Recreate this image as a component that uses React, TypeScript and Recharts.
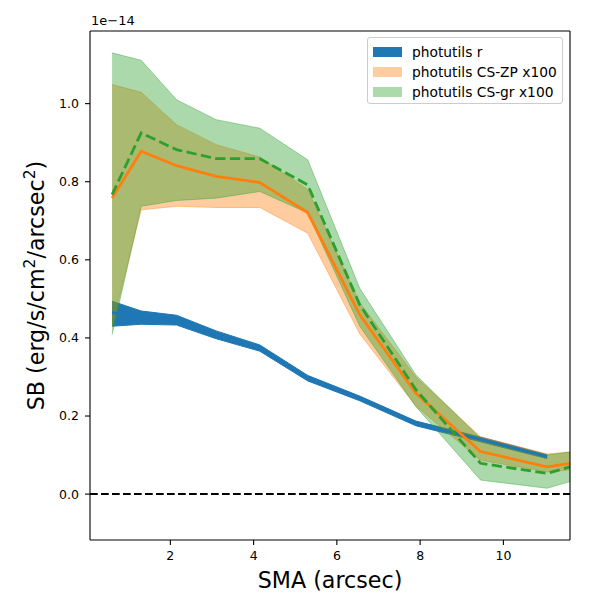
import {
  Area,
  ComposedChart,
  Line,
  ReferenceLine,
  XAxis,
  YAxis,
} from "recharts";

// SMA (arcsec), last point sits on the right edge of the axes
const sma = [0.6, 1.3, 2.15, 3.1, 4.15, 5.3, 6.55, 7.9, 9.45, 11.05, 11.6];

// SB in units of 1e-14 erg/s/cm2/arcsec2
const rMid = [0.465, 0.452, 0.446, 0.408, 0.374, 0.297, 0.245, 0.181, 0.14, 0.096];
const rLow = [0.43, 0.435, 0.433, 0.398, 0.366, 0.29, 0.239, 0.175, 0.134, 0.091];
const rHigh = [0.494, 0.469, 0.458, 0.418, 0.382, 0.304, 0.251, 0.187, 0.146, 0.101];

const zpMid = [0.758, 0.878, 0.841, 0.814, 0.798, 0.721, 0.459, 0.258, 0.109, 0.07, 0.079];
const zpLow = [0.43, 0.728, 0.737, 0.734, 0.734, 0.668, 0.41, 0.225, 0.087, 0.057, 0.062];
const zpHigh = [1.049, 1.029, 0.946, 0.895, 0.863, 0.78, 0.49, 0.3, 0.147, 0.103, 0.108];

const grMid = [0.767, 0.925, 0.882, 0.859, 0.859, 0.792, 0.485, 0.267, 0.079, 0.053, 0.07];
const grLow = [0.408, 0.737, 0.752, 0.758, 0.775, 0.72, 0.43, 0.224, 0.036, 0.015, 0.032];
const grHigh = [1.13, 1.111, 1.01, 0.959, 0.937, 0.856, 0.527, 0.305, 0.143, 0.1, 0.108];

const xTicks = [2, 4, 6, 8, 10];
const yTicks = [0, 0.2, 0.4, 0.6, 0.8, 1.0];
const xDomain = [0.07, 11.6];
const yDomain = [-0.1175, 1.186];

const legendItems = [
  { label: "photutils r", color: "#1f77b4" },
  { label: "photutils CS-ZP x100", color: "#ffcc9f" },
  { label: "photutils CS-gr x100", color: "#abdaab" },
];

const data = sma.map((x, i) => ({
  sma: x,
  r: rMid[i],
  rBand: rMid[i] === undefined ? undefined : [rLow[i], rHigh[i]],
  zp: zpMid[i],
  zpBand: [zpLow[i], zpHigh[i]],
  gr: grMid[i],
  grBand: [grLow[i], grHigh[i]],
}));

const FONT = "'DejaVu Sans', sans-serif";
const tickStyle = { fill: "#000", fontSize: 12.5, fontFamily: FONT };

export default function App() {
  return (
    <div style={{ position: "relative", width: 600, height: 600, fontFamily: FONT }}>
      <style>{"body{margin:0}"}</style>
      <ComposedChart
        width={600}
        height={600}
        data={data}
        margin={{ top: 31, right: 30, bottom: 0, left: 0 }}
      >
        <XAxis
          dataKey="sma"
          type="number"
          domain={xDomain}
          ticks={xTicks}
          allowDataOverflow
          height={60}
          tick={tickStyle}
          tickSize={5}
          tickMargin={6}
          axisLine={{ stroke: "#000", strokeWidth: 1.1 }}
          tickLine={{ stroke: "#000", strokeWidth: 1.1 }}
        />
        <YAxis
          type="number"
          domain={yDomain}
          ticks={yTicks}
          allowDataOverflow
          width={90}
          tick={tickStyle}
          tickSize={5}
          tickMargin={6}
          tickFormatter={(v: number) => v.toFixed(1)}
          axisLine={{ stroke: "#000", strokeWidth: 1.1 }}
          tickLine={{ stroke: "#000", strokeWidth: 1.1 }}
        />

        <Area
          type="linear"
          dataKey="rBand"
          fill="#1f77b4"
          fillOpacity={1}
          stroke="#1f77b4"
          strokeWidth={1}
          isAnimationActive={false}
          activeDot={false}
        />
        <Area
          type="linear"
          dataKey="zpBand"
          fill="#ff7f0e"
          fillOpacity={0.4}
          stroke="#ff7f0e"
          strokeOpacity={0.4}
          strokeWidth={1}
          isAnimationActive={false}
          activeDot={false}
        />
        <Area
          type="linear"
          dataKey="grBand"
          fill="#2ca02c"
          fillOpacity={0.4}
          stroke="#2ca02c"
          strokeOpacity={0.4}
          strokeWidth={1}
          isAnimationActive={false}
          activeDot={false}
        />
        <Line
          type="linear"
          dataKey="r"
          stroke="#1f77b4"
          strokeWidth={2.8}
          dot={false}
          activeDot={false}
          isAnimationActive={false}
        />
        <Line
          type="linear"
          dataKey="zp"
          stroke="#ff7f0e"
          strokeWidth={2.8}
          dot={false}
          activeDot={false}
          isAnimationActive={false}
        />
        <Line
          type="linear"
          dataKey="gr"
          stroke="#2ca02c"
          strokeWidth={2.8}
          strokeDasharray="10.3 4.4"
          dot={false}
          activeDot={false}
          isAnimationActive={false}
        />
        <ReferenceLine
          y={0}
          stroke="#000"
          strokeWidth={2}
          strokeDasharray="7.7 3.3"
        />
        {/* top and right spines */}
        <ReferenceLine y={yDomain[1]} stroke="#000" strokeWidth={1.1} ifOverflow="visible" />
        <ReferenceLine x={xDomain[1]} stroke="#000" strokeWidth={1.1} ifOverflow="visible" />
      </ComposedChart>

      <svg
        width={600}
        height={600}
        style={{ position: "absolute", left: 0, top: 0, pointerEvents: "none" }}
      >
        <text x={91} y={25} fontSize={13} fontFamily={FONT} fill="#000">
          1e−14
        </text>
        <text
          x={330}
          y={588}
          fontSize={22.2}
          fontFamily={FONT}
          textAnchor="middle"
          fill="#000"
        >
          SMA (arcsec)
        </text>
        <text
          transform="translate(43.5,285.5) rotate(-90)"
          fontSize={22.2}
          fontFamily={FONT}
          textAnchor="middle"
          fill="#000"
        >
          SB (erg/s/cm
          <tspan baselineShift="super" fontSize="70%">2</tspan>
          <tspan>/arcsec</tspan>
          <tspan baselineShift="super" fontSize="70%">2</tspan>
          <tspan>)</tspan>
        </text>
      </svg>

      <div
        style={{
          position: "absolute",
          left: 367,
          top: 37,
          width: 196,
          height: 67,
          boxSizing: "border-box",
          border: "1px solid #cccccc",
          borderRadius: 3,
          background: "rgba(255,255,255,0.8)",
          fontSize: 13.8,
          color: "#000",
        }}
      >
        {legendItems.map((item, i) => (
          <div
            key={item.label}
            style={{
              position: "absolute",
              left: 5,
              top: 4 + i * 20,
              height: 20,
              display: "flex",
              alignItems: "center",
              whiteSpace: "nowrap",
            }}
          >
            <span
              style={{
                display: "inline-block",
                width: 29,
                height: 10,
                background: item.color,
                marginRight: 10,
              }}
            />
            <span>{item.label}</span>
          </div>
        ))}
      </div>
    </div>
  );
}
